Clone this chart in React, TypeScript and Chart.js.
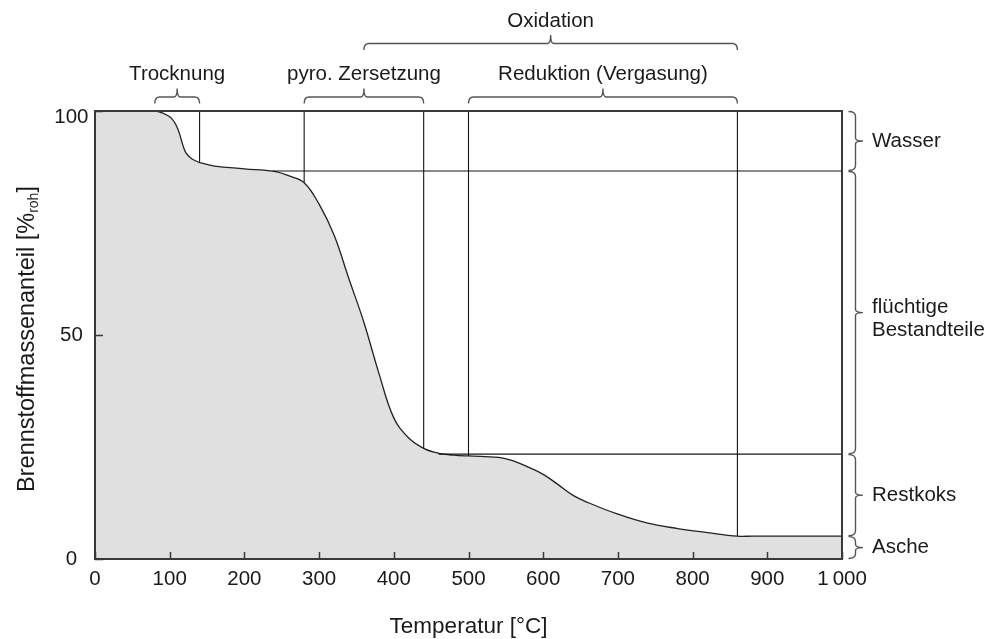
import React, { useEffect, useRef } from 'react';
import { Chart, registerables } from 'chart.js';

Chart.register(...registerables);

// ---- data ----
const temperature = [0, 80, 90, 100, 106, 110, 113, 116, 119, 122, 127, 133, 140, 160, 200, 240, 260, 280, 300, 320, 340, 360, 380, 400, 420, 440, 460, 480, 500, 540, 560, 580, 600, 620, 640, 660, 700, 740, 780, 820, 860, 880, 1000];
const massFraction = [100, 100, 99.6, 98.7, 97.6, 96.3, 95.0, 93.3, 91.7, 90.6, 89.7, 89.0, 88.5, 87.7, 87.1, 86.5, 85.5, 84.0, 79.2, 72.3, 62.5, 52.8, 41.5, 31.5, 27.0, 24.7, 23.6, 23.2, 23.0, 22.7, 21.9, 20.5, 18.9, 16.6, 14.2, 12.6, 10.0, 8.0, 6.8, 5.9, 5.1, 5.1, 5.1];

// reference lines
const vLineX = [140, 280, 440, 500, 860];
const vLineBottom = [88.5, 84.0, 24.7, 23.0, 5.1];
const hLineY = [86.6, 23.4];
const hLineFrom = [238, 460];
const hLineTo = [1000, 1000];

// top braces (phases)
const topBraceLabels = ['Trocknung', 'pyro. Zersetzung', 'Reduktion (Vergasung)', 'Oxidation'];
const topBraceFrom = [80, 280, 500, 360];
const topBraceTo = [140, 440, 860, 860];
const topBraceRow = [0, 0, 0, 1];

// right braces (components)
const sideBraceLabels = [['Wasser'], ['flüchtige', 'Bestandteile'], ['Restkoks'], ['Asche']];
const sideBraceBounds = [100, 86.6, 23.4, 5.1, 0];

const xMin = 0;
const xMax = 1000;
const xStep = 100;
const yMin = 0;
const yMax = 100;
const yStep = 50;

const FONT_FAMILY = '"Liberation Sans", Arial, Helvetica, sans-serif';
const TEXT = '#1a1a1a';

function fmtX(v: number): string {
  return v === 1000 ? '1\u2009000' : String(v);
}

function hBrace(ctx: CanvasRenderingContext2D, x1: number, x2: number, y: number, drop: number, tip: number) {
  const xm = (x1 + x2) / 2;
  const r = 5;
  ctx.beginPath();
  ctx.moveTo(x1, y + drop);
  ctx.quadraticCurveTo(x1, y, x1 + r, y);
  ctx.lineTo(xm - 3, y);
  ctx.quadraticCurveTo(xm, y, xm, y - tip);
  ctx.quadraticCurveTo(xm, y, xm + 3, y);
  ctx.lineTo(x2 - r, y);
  ctx.quadraticCurveTo(x2, y, x2, y + drop);
  ctx.stroke();
}

function vBrace(ctx: CanvasRenderingContext2D, y1: number, y2: number, x: number, back: number, tip: number) {
  const ym = (y1 + y2) / 2;
  const r = 5;
  ctx.beginPath();
  ctx.moveTo(x - back, y1);
  ctx.quadraticCurveTo(x, y1, x, y1 + r);
  ctx.lineTo(x, ym - 3);
  ctx.quadraticCurveTo(x, ym, x + tip, ym);
  ctx.quadraticCurveTo(x, ym, x, ym + 3);
  ctx.lineTo(x, y2 - r);
  ctx.quadraticCurveTo(x, y2, x - back, y2);
  ctx.stroke();
}

const overlayPlugin = {
  id: 'overlay',
  afterDatasetsDraw(chart: any) {
    const { ctx, chartArea: a, scales } = chart;
    const xs = scales.x;
    const ys = scales.y;
    ctx.save();

    // plot box
    ctx.strokeStyle = '#3a3a3a';
    ctx.lineWidth = 2;
    ctx.strokeRect(a.left, a.top, a.right - a.left, a.bottom - a.top);

    // inward tick marks
    ctx.lineWidth = 1.5;
    ctx.beginPath();
    xs.ticks.forEach((t: any) => {
      const px = Math.round(xs.getPixelForValue(t.value)) + 0.5;
      ctx.moveTo(px, a.bottom);
      ctx.lineTo(px, a.bottom - 7);
    });
    ys.ticks.forEach((t: any) => {
      const py = Math.round(ys.getPixelForValue(t.value)) + 0.5;
      ctx.moveTo(a.left, py);
      ctx.lineTo(a.left + 8, py);
    });
    ctx.stroke();

    // top braces + labels
    ctx.strokeStyle = '#555';
    ctx.lineWidth = 1.4;
    ctx.fillStyle = TEXT;
    ctx.font = `20.5px ${FONT_FAMILY}`;
    ctx.textAlign = 'center';
    ctx.textBaseline = 'alphabetic';
    topBraceLabels.forEach((label, i) => {
      const x1 = xs.getPixelForValue(topBraceFrom[i]);
      const x2 = xs.getPixelForValue(topBraceTo[i]);
      const braceY = topBraceRow[i] === 0 ? a.top - 14 : a.top - 67.5;
      const baseY = topBraceRow[i] === 0 ? a.top - 31 : a.top - 84.3;
      hBrace(ctx, x1, x2, braceY, 6.5, 8.5);
      ctx.fillText(label, (x1 + x2) / 2, baseY);
    });

    // right braces + labels
    const bx = a.right + 13.5;
    ctx.textAlign = 'left';
    ctx.textBaseline = 'middle';
    sideBraceLabels.forEach((lines, i) => {
      const y1 = ys.getPixelForValue(sideBraceBounds[i]);
      const y2 = ys.getPixelForValue(sideBraceBounds[i + 1]);
      vBrace(ctx, y1 + 0.5, y2 - 0.5, bx, 7, 7.5);
      const mid = (y1 + y2) / 2;
      const lh = 23;
      const start = lines.length > 1 ? mid + 6 - ((lines.length - 1) * lh) / 2 : mid;
      lines.forEach((ln, k) => ctx.fillText(ln, a.right + 30, start + k * lh));
    });

    // y-axis title with subscript
    ctx.save();
    ctx.translate(34, 339);
    ctx.rotate(-Math.PI / 2);
    const big = `23.5px ${FONT_FAMILY}`;
    const small = `14px ${FONT_FAMILY}`;
    const p1 = 'Brennstoffmassenanteil [%';
    const p2 = 'roh';
    const p3 = ']';
    ctx.font = big;
    const w1 = ctx.measureText(p1).width;
    const w3 = ctx.measureText(p3).width;
    ctx.font = small;
    const w2 = ctx.measureText(p2).width;
    let sx = -(w1 + w2 + w3) / 2;
    ctx.textAlign = 'left';
    ctx.textBaseline = 'alphabetic';
    ctx.font = big;
    ctx.fillText(p1, sx, 0);
    sx += w1;
    ctx.font = small;
    ctx.fillText(p2, sx, 4);
    sx += w2;
    ctx.font = big;
    ctx.fillText(p3, sx, 0);
    ctx.restore();

    ctx.restore();
  },
};

export default function App() {
  const ref = useRef<HTMLCanvasElement | null>(null);

  useEffect(() => {
    if (!ref.current) return;
    Chart.defaults.font.family = FONT_FAMILY;

    const lineStyle = {
      borderColor: '#151515',
      borderWidth: 1.1,
      pointRadius: 0,
      fill: false,
      tension: 0,
    };

    const refDatasets: any[] = [];
    vLineX.forEach((x, i) => {
      refDatasets.push({
        ...lineStyle,
        data: [
          { x, y: yMax },
          { x, y: vLineBottom[i] },
        ],
      });
    });
    hLineY.forEach((y, i) => {
      refDatasets.push({
        ...lineStyle,
        data: [
          { x: hLineFrom[i], y },
          { x: hLineTo[i], y },
        ],
      });
    });

    const chart = new Chart(ref.current, {
      type: 'line',
      data: {
        datasets: [
          ...refDatasets,
          {
            data: temperature.map((t, i) => ({ x: t, y: massFraction[i] })),
            borderColor: '#222',
            borderWidth: 1.3,
            backgroundColor: '#e0e0e0',
            fill: 'origin',
            pointRadius: 0,
            tension: 0.4,
            order: 10,
          },
        ],
      },
      options: {
        animation: false,
        responsive: false,
        maintainAspectRatio: false,
        layout: { padding: { left: 0, top: 111, right: 147, bottom: 0 } },
        plugins: {
          legend: { display: false },
          tooltip: { enabled: false },
        },
        scales: {
          x: {
            type: 'linear',
            min: xMin,
            max: xMax,
            afterFit: (s: any) => {
              s.height = 80;
            },
            grid: { display: false, drawTicks: false },
            border: { display: false },
            ticks: {
              stepSize: xStep,
              autoSkip: false,
              maxRotation: 0,
              padding: 8,
              color: TEXT,
              font: { size: 20.5 },
              callback: (v: any) => fmtX(Number(v)),
            },
            title: {
              display: true,
              text: 'Temperatur [°C]',
              color: TEXT,
              font: { size: 22.5, lineHeight: 1 },
              padding: { top: 0, bottom: 0.5 },
            },
          },
          y: {
            min: yMin,
            max: yMax,
            afterFit: (s: any) => {
              s.width = 95;
            },
            grid: { display: false, drawTicks: false },
            border: { display: false },
            ticks: {
              stepSize: yStep,
              crossAlign: 'center',
              padding: 6.5,
              color: TEXT,
              font: (c: any) =>
                c.tick && c.tick.value === yMax ? { size: 20.5, lineHeight: '13px' } : { size: 20.5 },
              callback: (v: any) => (Number(v) === yMax ? ['', String(v)] : String(v)),
            },
          },
        },
      },
      plugins: [overlayPlugin],
    } as any);

    return () => chart.destroy();
  }, []);

  return (
    <div style={{ position: 'absolute', left: 0, top: 0, width: 989, height: 639, background: '#fff' }}>
      <canvas ref={ref} width={989} height={639} style={{ display: 'block' }} />
    </div>
  );
}
